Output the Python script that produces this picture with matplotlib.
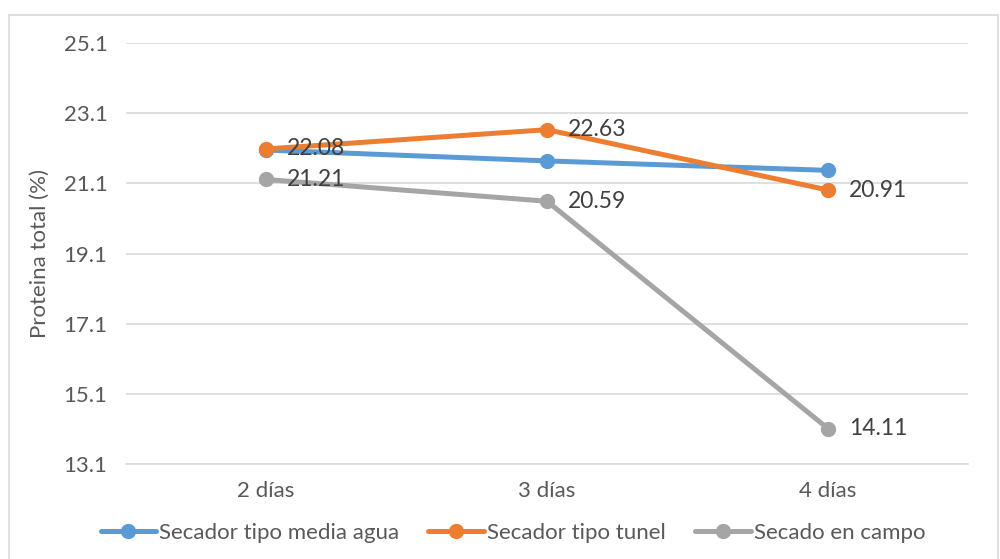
import matplotlib
matplotlib.use("Agg")
import matplotlib.pyplot as plt
from matplotlib.patches import Rectangle

plt.rcParams['font.family'] = ['Lato', 'DejaVu Sans']

categories = ["2 días", "3 días", "4 días"]
media_agua = [22.05, 21.74, 21.47]
tunel = [22.08, 22.63, 20.91]
campo = [21.21, 20.59, 14.11]
tunel_labels = ["22.08", "22.63", "20.91"]
campo_labels = ["21.21", "20.59", "14.11"]
yticks = [13.1, 15.1, 17.1, 19.1, 21.1, 23.1, 25.1]

blue = "#5B9BD5"
orange = "#ED7D31"
gray = "#A5A5A5"
text_c = "#595959"

fig = plt.figure(figsize=(10, 5.59), dpi=100)
ax = fig.add_axes([0.1255, 0.17, 0.843, 0.753])

x = list(range(len(categories)))
kw = dict(linewidth=3.6, marker="o", markersize=10, solid_capstyle="round")
ax.plot(x, media_agua, color=blue, label="Secador tipo media agua", **kw)
ax.plot(x, tunel, color=orange, label="Secador tipo tunel", **kw)
ax.plot(x, campo, color=gray, label="Secado en campo", **kw)

for xi, v, s in zip(x, tunel, tunel_labels):
    ax.annotate(s, (xi, v), xytext=(15, 0), textcoords="offset points",
                va="center", ha="left", fontsize=16.5, color="#404040")
for xi, v, s in zip(x, campo, campo_labels):
    ax.annotate(s, (xi, v), xytext=(15, 0), textcoords="offset points",
                va="center", ha="left", fontsize=16.5, color="#404040")

ax.set_xlim(-0.5, 2.5)
ax.set_ylim(13.1, 25.1)
ax.set_yticks(yticks)
ax.set_yticklabels([f"{t:.1f}" for t in yticks])
ax.set_xticks(x)
ax.set_xticklabels(categories)
ax.grid(axis="y", color="#D9D9D9", linewidth=1.2)
ax.set_axisbelow(True)
for side in ["top", "right", "left"]:
    ax.spines[side].set_visible(False)
ax.spines["bottom"].set_color("#D9D9D9")
ax.spines["bottom"].set_linewidth(1.2)
ax.tick_params(axis="both", length=0, labelsize=16, colors=text_c)
ax.tick_params(axis="y", pad=13)
ax.tick_params(axis="x", pad=12)
ax.set_ylabel("Proteina total (%)", fontsize=16, color=text_c, labelpad=10)

leg = fig.legend(loc="center", bbox_to_anchor=(0.513, 0.047), ncol=3, frameon=False,
                 fontsize=16, handlelength=2.5, handletextpad=0.15, columnspacing=1.3)
for t in leg.get_texts():
    t.set_color(text_c)

fig.patches.append(Rectangle((0.009, -0.01), 0.989, 0.983, transform=fig.transFigure,
                             fill=False, edgecolor="#D9D9D9", linewidth=1.2))

fig.savefig("out.png", dpi=100, facecolor="white")
